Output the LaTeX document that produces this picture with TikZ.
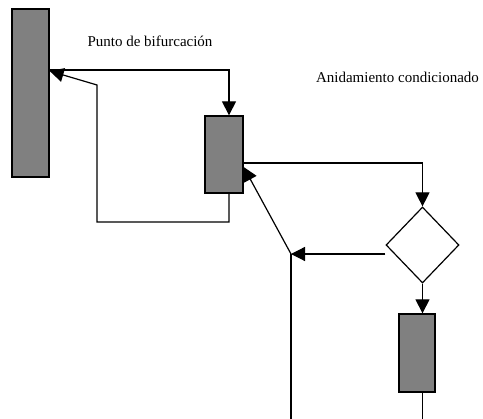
\documentclass[tikz,border=0pt]{standalone}
\usepackage{fontspec}
\setmainfont{Liberation Serif}
\usetikzlibrary{arrows.meta,shapes.geometric}
\definecolor{boxgray}{RGB}{128,128,128}
\begin{document}
\begin{tikzpicture}[x=1pt,y=-1pt,
  procbox/.style={rectangle,draw=black,line width=1.3pt,fill=boxgray,inner sep=0pt},
  cond/.style={diamond,draw=black,line width=1.2pt,fill=white,inner sep=0pt,
    minimum width=73pt,minimum height=76pt},
  wire/.style={line width=1.2pt},
  flow/.style={wire,-{Triangle[length=14pt,width=14pt]}},
  lbl/.style={font=\fontsize{15}{17}\selectfont,inner sep=0pt,anchor=base}]
\useasboundingbox (0,0) rectangle (483,419);

% blocks
\node[procbox,minimum width=37pt,minimum height=168pt] (A) at (30.5,93) {};
\node[procbox,minimum width=38pt,minimum height=77pt] (B) at (224,154.5) {};
\node[cond] (D) at (422.5,245) {};
\node[procbox,minimum width=36pt,minimum height=78pt] (C) at (417,353) {};

% labels
\node[lbl] (lbif) at (150,47) {Punto de bifurcación};
\node[lbl] (lanid) at (397.5,83) {Anidamiento condicionado};

% helper points of the routed connectors
\coordinate (t1) at (229,70);
\coordinate (l1) at (229,222);
\coordinate (l2) at (97,222);
\coordinate (l3) at (97,85);
\coordinate (r1) at (422.5,163);
\coordinate (j) at (291,254);
\coordinate (jb) at (291,419);
\coordinate (cb) at (422.5,419);

% bifurcation and loop back
\draw[flow] (A.east |- t1) -- (t1) -- (t1 |- B.north);
\draw[flow] (l1 |- B.south) -- (l1) -- (l2) -- (l3) -- (A.east |- 0,71);

% conditional nesting
\draw[flow] (B.east |- r1) -- (r1) -- (D.north);
\draw[flow] (D.west |- j) -- (j);
\draw[flow] (j) -- (B.east |- 0,167);
\draw[wire] (j) -- (jb);
\draw[flow] (D.south) -- (D.south |- C.north);
\draw[wire] (D.south |- C.south) -- (cb);
\end{tikzpicture}
\end{document}
